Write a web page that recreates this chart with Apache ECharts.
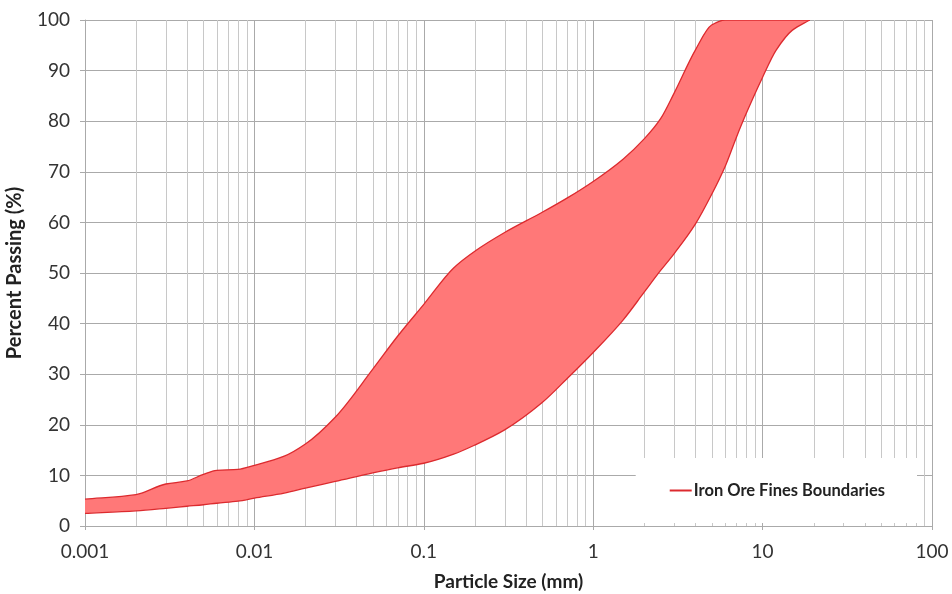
<!DOCTYPE html>
<html>
<head>
<meta charset="utf-8">
<script src="https://cdn.jsdelivr.net/npm/echarts@6/dist/echarts.min.js"></script>
<style>
  html, body { margin: 0; padding: 0; background: #fff; }
  #chart { width: 952px; height: 594px; }
</style>
</head>
<body>
<div id="chart"></div>
<script>
// particle sizes (mm) shared by both boundary curves
const sizes = [0.001, 0.002, 0.003, 0.004, 0.005, 0.006, 0.008, 0.01, 0.015, 0.02, 0.03, 0.05, 0.07,
  0.1, 0.15, 0.2, 0.3, 0.5, 0.7, 1, 1.5, 2, 2.5, 3, 4, 5, 6, 7, 8, 10, 12, 15, 19];
// upper boundary, percent passing
const upperPct = [5.3, 6.2, 8.3, 8.9, 10.2, 11.0, 11.2, 12.0, 13.8, 16.2, 21.5, 31.0, 37.5,
  43.8, 51.0, 54.3, 58.0, 62.0, 64.8, 68.1, 72.5, 76.5, 80.5, 85.5, 94.0, 99.0, 100, 100, 100, 100, 100, 100, 100];
// lower boundary, percent passing
const lowerPct = [2.5, 3.0, 3.5, 3.9, 4.2, 4.5, 4.9, 5.5, 6.5, 7.5, 8.8, 10.5, 11.5,
  12.4, 14.2, 16.0, 19.0, 24.4, 29.1, 34.3, 40.7, 46.2, 50.5, 53.8, 59.6, 65.5, 71.0, 76.8, 81.5, 88.7, 94.0, 98.0, 100];
const xTicks = ["0.001", "0.01", "0.1", "1", "10", "100"];
const legendName = "Iron Ore Fines Boundaries";

// minor log grid lines: 2..9 in every decade
const minorTicks = [];
for (let d = -3; d < 2; d++) {
  for (let m = 2; m <= 9; m++) minorTicks.push(+(m * Math.pow(10, d)).toPrecision(3));
}

const font = "Lato, 'Open Sans', sans-serif";
const red = "#dc2a2e";

// monotone cubic (Fritsch-Carlson) bezier segments through pixel points
function segments(pts) {
  const n = pts.length;
  const dx = [], m = [], t = [];
  for (let k = 0; k < n - 1; k++) {
    dx[k] = pts[k + 1][0] - pts[k][0];
    m[k] = (pts[k + 1][1] - pts[k][1]) / dx[k];
  }
  t[0] = m[0];
  t[n - 1] = m[n - 2];
  for (let k = 1; k < n - 1; k++) {
    if (m[k - 1] * m[k] <= 0) t[k] = 0;
    else t[k] = 3 * (dx[k - 1] + dx[k]) /
      ((2 * dx[k] + dx[k - 1]) / m[k - 1] + (dx[k] + 2 * dx[k - 1]) / m[k]);
  }
  const segs = [];
  for (let k = 0; k < n - 1; k++) {
    const h = dx[k] / 3;
    segs.push([pts[k], [pts[k][0] + h, pts[k][1] + t[k] * h],
      [pts[k + 1][0] - h, pts[k + 1][1] - t[k + 1] * h], pts[k + 1]]);
  }
  return segs;
}

function curveData(segs) {
  return segs.map((s) => "C" + s[1].join(",") + " " + s[2].join(",") + " " + s[3].join(",")).join(" ");
}

function renderBand(params, api) {
  const up = sizes.map((s, i) => api.coord([s, upperPct[i]]));
  const lo = sizes.map((s, i) => api.coord([s, lowerPct[i]]));
  const loSegs = segments(lo);
  const loRev = loSegs.slice().reverse().map((s) => [s[3], s[2], s[1], s[0]]);
  const upPath = "M" + up[0].join(",") + " " + curveData(segments(up));
  const loPath = "M" + lo[0].join(",") + " " + curveData(loSegs);
  const fillPath = upPath + " L" + lo[lo.length - 1].join(",") + " " + curveData(loRev) + " Z";
  return {
    type: "group",
    children: [
      { type: "path", shape: { pathData: fillPath }, style: { fill: "#ff7878", stroke: null } },
      { type: "path", shape: { pathData: upPath }, style: { fill: null, stroke: red, lineWidth: 1.3 } },
      { type: "path", shape: { pathData: loPath }, style: { fill: null, stroke: red, lineWidth: 1.3 } }
    ]
  };
}

function renderMinorLine(params, api) {
  const v = api.value(0);
  const a = api.coord([v, 0]);
  const b = api.coord([v, 100]);
  return {
    type: "line",
    shape: { x1: Math.round(a[0]) + 0.5, y1: a[1], x2: Math.round(b[0]) + 0.5, y2: b[1] },
    style: { stroke: "#c8c8c8", lineWidth: 1 },
    silent: true
  };
}

const chart = echarts.init(document.getElementById("chart"));

chart.setOption({
  animation: false,
  backgroundColor: "#fff",
  grid: { left: 85, right: 20, top: 20, bottom: 68, outerBoundsMode: "none" },
  legend: {
    data: [{ name: legendName, icon: "rect" }],
    right: 35,
    top: 458,
    padding: [24, 32, 24, 34],
    backgroundColor: "#fff",
    itemWidth: 22,
    itemHeight: 2,
    itemGap: 2,
    textStyle: { fontFamily: font, fontSize: 16.5, fontWeight: "bold", color: "#222", padding: [0, 0, 0, -3] }
  },
  xAxis: {
    type: "log",
    logBase: 10,
    min: 0.001,
    max: 100,
    name: "Particle Size (mm)",
    nameLocation: "middle",
    nameGap: 46,
    nameTextStyle: { fontFamily: font, fontSize: 19, fontWeight: "bold", color: "#222" },
    axisLine: { show: true, lineStyle: { color: "#aaaaaa" } },
    axisTick: { show: true, length: 4, lineStyle: { color: "#aaaaaa" } },
    axisLabel: {
      fontFamily: font, fontSize: 19, color: "#333", margin: 16,
      formatter: (v) => xTicks.find((t) => Math.abs(+t - v) < v * 1e-6) || ""
    },
    splitLine: { show: true, lineStyle: { color: "#aaaaaa", width: 1 } }
  },
  yAxis: {
    type: "value",
    min: 0,
    max: 100,
    interval: 10,
    name: "Percent Passing (%)",
    nameLocation: "middle",
    nameGap: 60,
    nameTextStyle: { fontFamily: font, fontSize: 20, fontWeight: "bold", color: "#222" },
    axisLine: { show: true, lineStyle: { color: "#aaaaaa" } },
    axisTick: { show: true, length: 5, lineStyle: { color: "#aaaaaa" } },
    axisLabel: { fontFamily: font, fontSize: 19, color: "#333", margin: 15 },
    splitLine: { show: true, lineStyle: { color: "#aaaaaa", width: 1 } }
  },
  series: [
    {
      name: "minorGrid",
      type: "custom",
      silent: true,
      renderItem: renderMinorLine,
      data: minorTicks.map((v) => [v, 50]),
      z: 1
    },
    {
      name: legendName,
      type: "custom",
      clip: true,
      itemStyle: { color: red },
      renderItem: renderBand,
      data: [[1, 50]],
      z: 2
    }
  ]
});
</script>
</body>
</html>
